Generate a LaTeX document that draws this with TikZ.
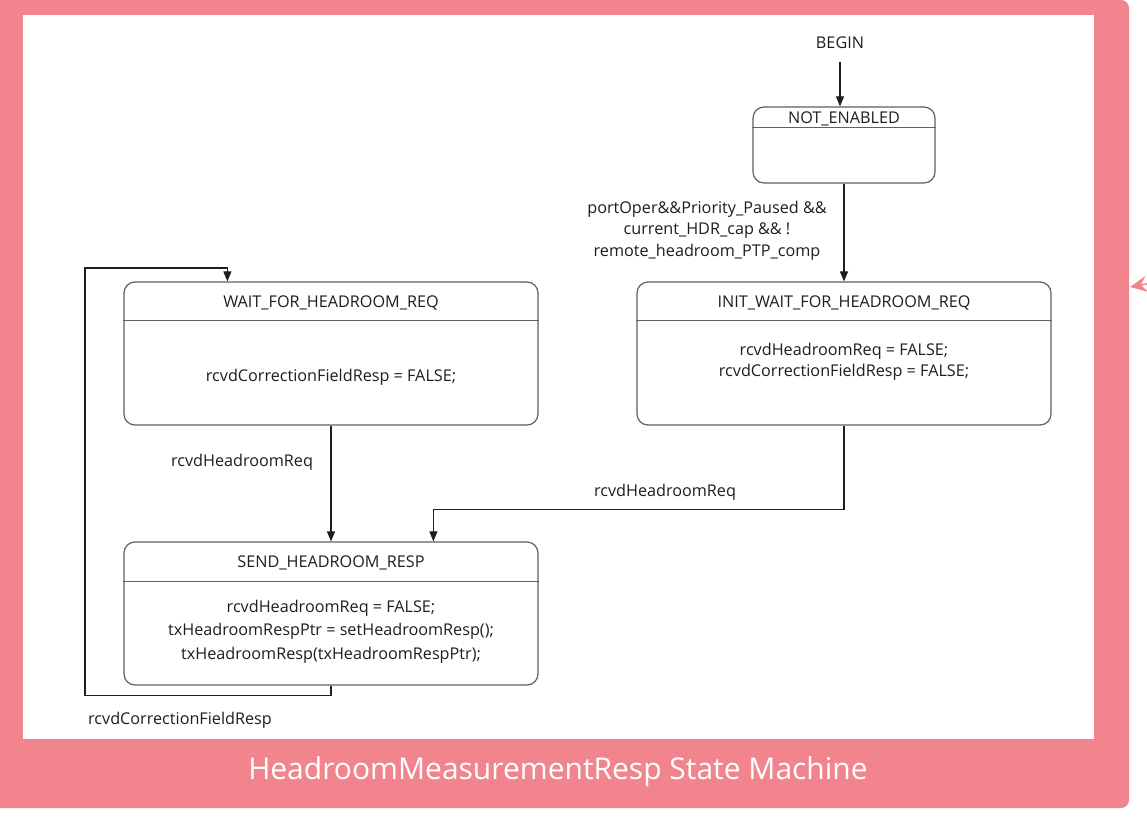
\documentclass[tikz,border=0pt]{standalone}
\usepackage{fontspec}
\setmainfont{Open Sans}
\usetikzlibrary{arrows.meta,calc}
\definecolor{pinkc}{RGB}{242,132,142}
\definecolor{txt}{RGB}{30,30,30}
\definecolor{bord}{RGB}{95,95,100}
\tikzset{
  statebox/.style={draw=bord, line width=1.2pt, rounded corners=11pt, fill=white, inner sep=0pt},
  lbl/.style={font=\fontsize{16.2}{21}\selectfont, text=txt, inner sep=0pt, align=center},
  conn/.style={draw=txt, line width=1.1pt, -{Triangle[length=10pt,width=8pt]}},
}
\begin{document}
\begin{tikzpicture}[x=1pt,y=-1pt]
\useasboundingbox (0,0) rectangle (1147,824);
% frame
\fill[pinkc, rounded corners=8pt] (-30,0) rectangle (1129,808);
\fill[white] (23,15) rectangle (1094,739);
\node[font=\fontsize{30}{34}\selectfont, text=white, inner sep=0pt] (cap) at (558,772) {HeadroomMeasurementResp State Machine};
\draw[pinkc, line width=1.6pt, -{Stealth[length=17pt,width=16pt,inset=6pt]}] (1152,283) -- (1130,287);

% states
\node[statebox, minimum width=182pt, minimum height=76pt] (ne) at (844,145) {};
\draw[bord, line width=1.2pt] ($(ne.north west)+(0,21)$) -- ($(ne.north east)+(0,21)$);
\node[lbl] (netitle) at (844,118.5) {NOT\_ENABLED};

\node[statebox, minimum width=414pt, minimum height=143pt] (wait) at (331,353.5) {};
\draw[bord, line width=1.2pt] ($(wait.north west)+(0,39)$) -- ($(wait.north east)+(0,39)$);
\node[lbl] (waittitle) at (331,302.5) {WAIT\_FOR\_HEADROOM\_REQ};
\node[lbl] (waitbody) at (331,377.5) {rcvdCorrectionFieldResp = FALSE;};

\node[statebox, minimum width=414pt, minimum height=143pt] (init) at (844,353.5) {};
\draw[bord, line width=1.2pt] ($(init.north west)+(0,39)$) -- ($(init.north east)+(0,39)$);
\node[lbl] (inittitle) at (844,302.5) {INIT\_WAIT\_FOR\_HEADROOM\_REQ};
\node[lbl] (initbody) at (844,361.5) {rcvdHeadroomReq = FALSE;\\rcvdCorrectionFieldResp = FALSE;};

\node[statebox, minimum width=414pt, minimum height=143pt] (send) at (331,613.5) {};
\draw[bord, line width=1.2pt] ($(send.north west)+(0,40)$) -- ($(send.north east)+(0,40)$);
\node[lbl] (sendtitle) at (331,562.5) {SEND\_HEADROOM\_RESP};
\node[lbl, font=\fontsize{16.2}{23.5}\selectfont] (sendbody) at (331,631.5) {rcvdHeadroomReq = FALSE;\\txHeadroomRespPtr = setHeadroomResp();\\txHeadroomResp(txHeadroomRespPtr);};

% labels
\node[lbl] (begin) at (840,43) {BEGIN};
\node[lbl, font=\fontsize{16.2}{21.5}\selectfont] (g1) at (707,230.5) {portOper\&\&Priority\_Paused \&\&\\current\_HDR\_cap \&\& !\\remote\_headroom\_PTP\_comp};
\node[lbl] (g2) at (242,462.5) {rcvdHeadroomReq};
\node[lbl] (g3) at (665,492.5) {rcvdHeadroomReq};
\node[lbl] (g4) at (180,720.5) {rcvdCorrectionFieldResp};

% connectors
\coordinate (bs) at (840,62);
\draw[conn] (bs) -- (bs |- ne.north);
\draw[conn] (ne.south) -- (init.north);
\draw[conn] (wait.south) -- (send.north);
\coordinate (sendin) at ($(send.north west)+(310,0)$);
\draw[conn] (init.south) -- ++(0,84) -| (sendin);
\coordinate (waitin) at ($(wait.north west)+(104,0)$);
\draw[conn] (send.south) -- ++(0,10) -| (85,268) -| (waitin);
\end{tikzpicture}
\end{document}
